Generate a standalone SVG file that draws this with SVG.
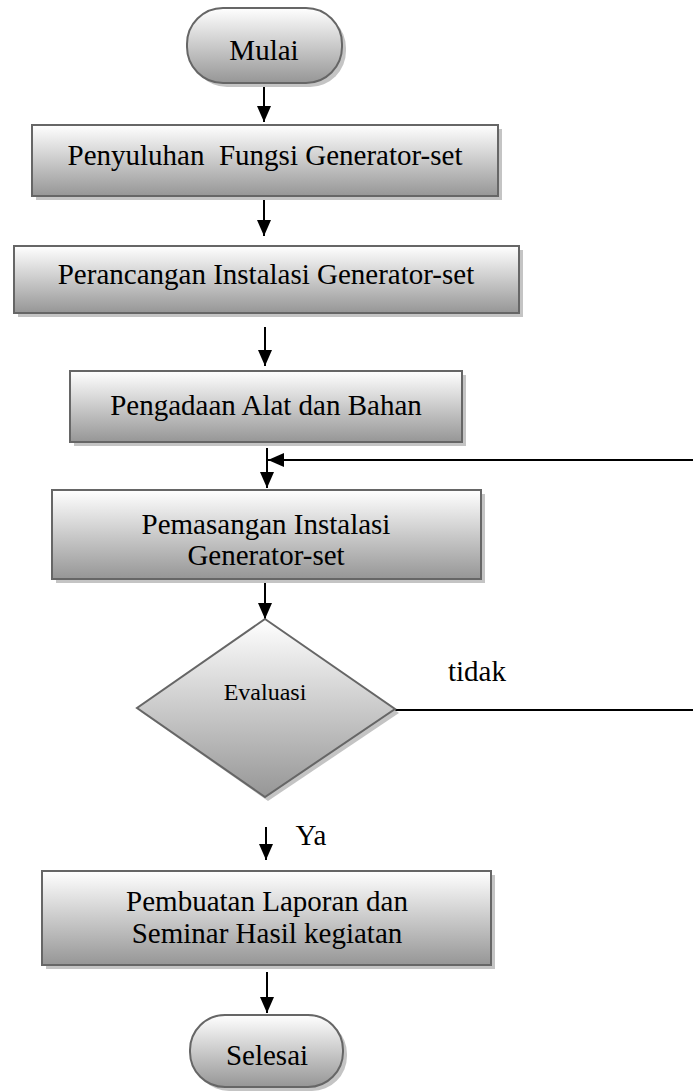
<svg xmlns="http://www.w3.org/2000/svg" width="693" height="1092" viewBox="0 0 693 1092">
<defs>
<linearGradient id="g" x1="0" y1="0" x2="0" y2="1">
<stop offset="0" stop-color="#ffffff"/>
<stop offset="1" stop-color="#969696"/>
</linearGradient>
<marker id="ah" viewBox="0 0 16 14" refX="16" refY="7" markerWidth="16" markerHeight="14" markerUnits="userSpaceOnUse" orient="auto">
<path d="M0,0 L16,7 L0,14 Z" fill="#000"/>
</marker>
<style>
.sh{fill:#c4c4c4;stroke:none}
.nd{fill:url(#g);stroke:#666;stroke-width:2}
.t{font-size:29px;fill:#000;text-anchor:middle}
.c{stroke:#000;stroke-width:2;fill:none}
</style>
</defs>
<rect width="693" height="1092" fill="#fff"/>
<g id="connectors">
<line class="c" x1="264" y1="84" x2="264" y2="122" marker-end="url(#ah)"/>
<line class="c" x1="264" y1="197" x2="264" y2="236" marker-end="url(#ah)"/>
<line class="c" x1="265" y1="327" x2="265" y2="366" marker-end="url(#ah)"/>
<line class="c" x1="267" y1="448" x2="267" y2="488" marker-end="url(#ah)"/>
<line class="c" x1="693" y1="460" x2="268" y2="460" marker-end="url(#ah)"/>
<line class="c" x1="265" y1="579" x2="265" y2="619" marker-end="url(#ah)"/>
<line class="c" x1="395" y1="710" x2="693" y2="710"/>
<line class="c" x1="266" y1="827" x2="266" y2="860" marker-end="url(#ah)"/>
<line class="c" x1="267" y1="972" x2="267" y2="1013" marker-end="url(#ah)"/>
</g>
<g font-family="'Liberation Serif', 'Times New Roman', serif">
<g id="mulai">
<rect class="sh" x="191" y="12" width="155" height="75" rx="36"/>
<rect class="nd" x="187" y="8" width="155" height="75" rx="36"/>
<text class="t" x="264" y="60">Mulai</text>
</g>
<g id="penyuluhan">
<rect class="sh" x="36" y="129" width="466" height="71"/>
<rect class="nd" x="32" y="125" width="466" height="71"/>
<text class="t" x="265" y="165" xml:space="preserve">Penyuluhan  Fungsi Generator-set</text>
</g>
<g id="perancangan">
<rect class="sh" x="18" y="250" width="505" height="67"/>
<rect class="nd" x="14" y="246" width="505" height="67"/>
<text class="t" x="266" y="284">Perancangan Instalasi Generator-set</text>
</g>
<g id="pengadaan">
<rect class="sh" x="74" y="375" width="392" height="71"/>
<rect class="nd" x="70" y="371" width="392" height="71"/>
<text class="t" x="266" y="415">Pengadaan Alat dan Bahan</text>
</g>
<g id="pemasangan">
<rect class="sh" x="56" y="494" width="429" height="89"/>
<rect class="nd" x="52" y="490" width="429" height="89"/>
<text class="t" x="266" y="534">Pemasangan Instalasi</text>
<text class="t" x="266" y="565">Generator-set</text>
</g>
<g id="evaluasi">
<polygon class="sh" points="268,623 399,713 268,801 141,712"/>
<polygon class="nd" points="265,619 395,709 265,797 137,708"/>
<text class="t" x="265" y="700" style="font-size:24px">Evaluasi</text>
</g>
<text class="t" x="477" y="681">tidak</text>
<text class="t" x="311" y="845">Ya</text>
<g id="pembuatan">
<rect class="sh" x="46" y="875" width="449" height="94"/>
<rect class="nd" x="42" y="871" width="449" height="94"/>
<text class="t" x="267" y="911">Pembuatan Laporan dan</text>
<text class="t" x="267" y="943">Seminar Hasil kegiatan</text>
</g>
<g id="selesai">
<rect class="sh" x="194" y="1019" width="153" height="72" rx="35"/>
<rect class="nd" x="190" y="1015" width="153" height="72" rx="35"/>
<text class="t" x="267" y="1065">Selesai</text>
</g>
</g>
</svg>
